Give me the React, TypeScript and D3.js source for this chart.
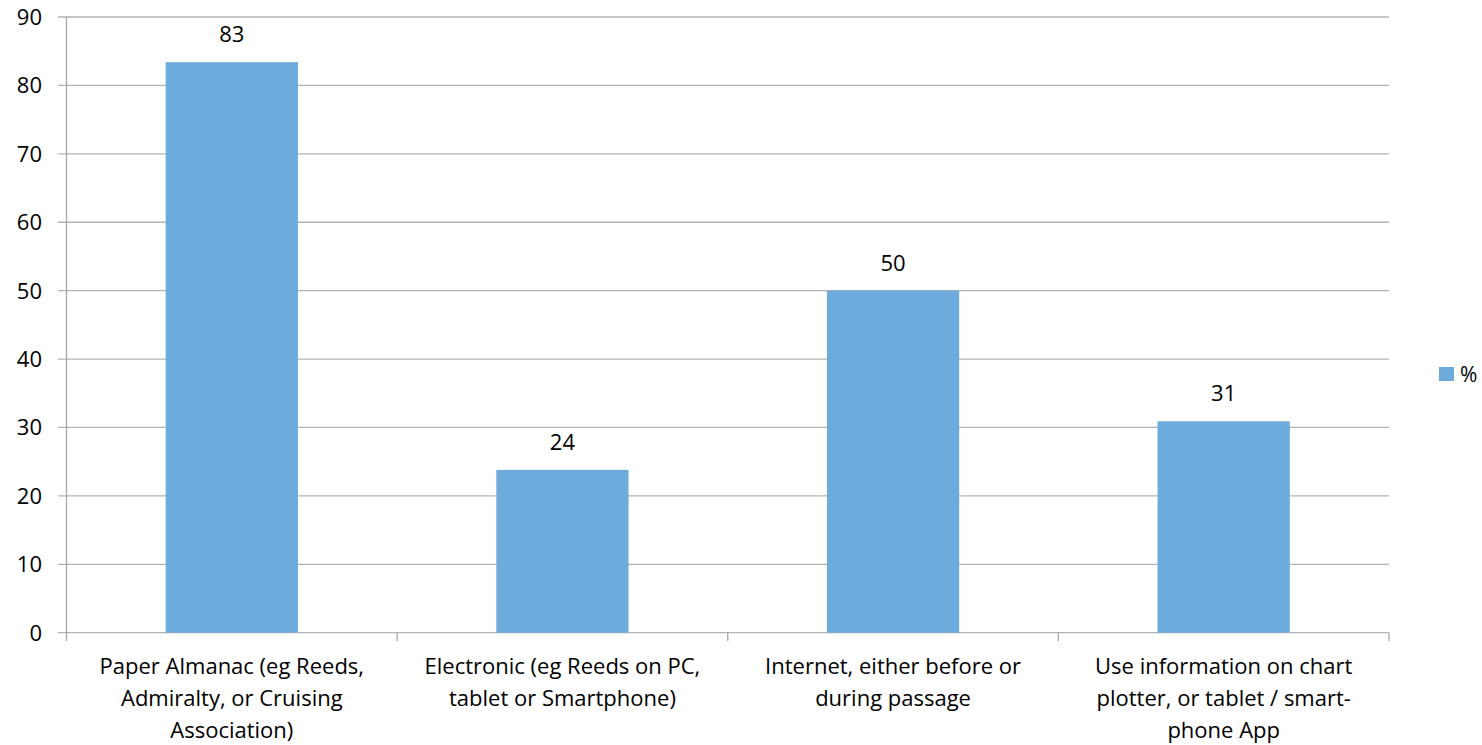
import React from "react";
import * as d3 from "d3";

const categories: string[][] = [
  ["Paper Almanac (eg Reeds,", "Admiralty, or Cruising", "Association)"],
  ["Electronic (eg Reeds on PC,", "tablet or Smartphone)"],
  ["Internet, either before or", "during passage"],
  ["Use information on chart", "plotter, or tablet / smart-", "phone App"],
];
const values: number[] = [83.4, 23.8, 50.0, 30.9];
const yTicks: number[] = [0, 10, 20, 30, 40, 50, 60, 70, 80, 90];
const seriesName = "%";

const W = 1482;
const H = 745;
const FONT = "'Open Sans', Lato, sans-serif";
const BAR = "#6CABDC";

export default function App() {
  const left = 66.5;
  const right = 1389;
  const top = 17;
  const bottom = 632.7;
  const x = d3.scaleBand<number>().domain(d3.range(categories.length)).range([left, right]).paddingInner(0.6).paddingOuter(0.3);
  const band = d3.scaleBand<number>().domain(d3.range(categories.length)).range([left, right]);
  const y = d3.scaleLinear().domain([0, 90]).range([bottom, top]);

  return (
    <svg width={W} height={H} style={{ position: "absolute", left: 0, top: 0 }} fontFamily={FONT}>
      <rect width={W} height={H} fill="#fff" />
      {yTicks.map((t) => (
        <g key={t}>
          <line x1={58} x2={right} y1={y(t)} y2={y(t)} stroke="#b3b3b3" strokeWidth={1.3} />
          <text x={42} y={y(t)} dy="0.36em" textAnchor="end" fontSize={22} fill="#000">
            {t}
          </text>
        </g>
      ))}
      <line x1={left} x2={left} y1={top} y2={bottom} stroke="#a6a6a6" strokeWidth={1.3} />
      {d3.range(categories.length + 1).map((i) => {
        const xx = i < categories.length ? band(i)! : right;
        return <line key={i} x1={xx} x2={xx} y1={bottom} y2={641} stroke="#a6a6a6" strokeWidth={1.3} />;
      })}
      {values.map((v, i) => (
        <g key={i}>
          <rect x={x(i)!} y={y(v)} width={x.bandwidth()} height={bottom - y(v)} fill={BAR} />
          <text x={x(i)! + x.bandwidth() / 2} y={y(v) - 20} textAnchor="middle" fontSize={22} fill="#000">
            {Math.round(v)}
          </text>
          <text textAnchor="middle" fontSize={22} fill="#000">
            {categories[i].map((line, j) => (
              <tspan key={j} x={band(i)! + band.bandwidth() / 2} y={674 + j * 32}>
                {line}
              </tspan>
            ))}
          </text>
        </g>
      ))}
      <rect x={1439} y={367} width={15} height={14} fill={BAR} />
      <text x={1460} y={374} dy="0.36em" fontSize={21} fill="#000">
        {seriesName}
      </text>
    </svg>
  );
}
